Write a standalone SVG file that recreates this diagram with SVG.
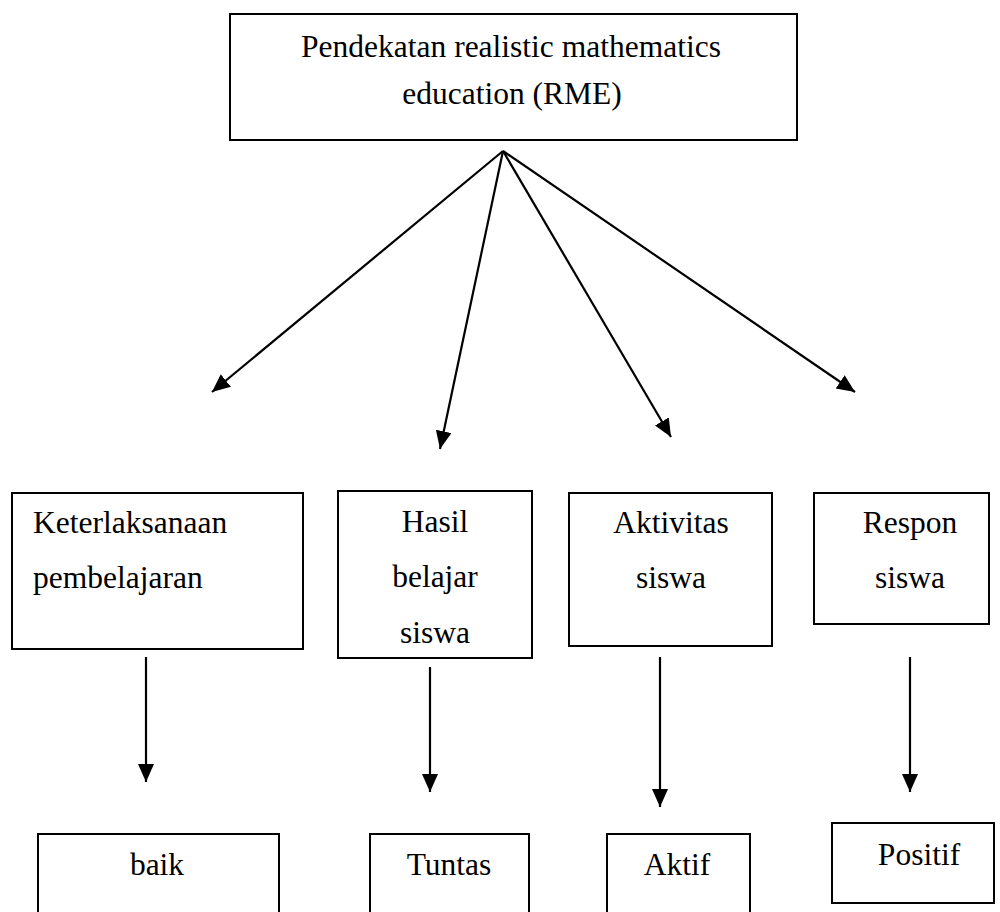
<svg xmlns="http://www.w3.org/2000/svg" width="1000" height="912" viewBox="0 0 1000 912">
<style>
.box{fill:#fff;stroke:#000;stroke-width:2}
text{font-family:'Liberation Serif','Times New Roman',serif;font-size:31.5px;fill:#000}
.c{text-anchor:middle}
.ln{stroke:#000;stroke-width:2.2;fill:none}
</style>
<defs>
<marker id="ah" markerUnits="userSpaceOnUse" markerWidth="20" markerHeight="18" refX="18" refY="8" orient="auto">
<path d="M0,0 L18,8 L0,16 Z" fill="#000"/>
</marker>
</defs>
<rect width="1000" height="912" fill="#fff"/>
<g id="connectors">
<line class="ln" x1="503" y1="151" x2="212" y2="392" marker-end="url(#ah)"/>
<line class="ln" x1="503" y1="151" x2="440" y2="449" marker-end="url(#ah)"/>
<line class="ln" x1="503" y1="151" x2="671" y2="437" marker-end="url(#ah)"/>
<line class="ln" x1="503" y1="151" x2="855" y2="392" marker-end="url(#ah)"/>
<line class="ln" x1="146" y1="657" x2="146" y2="782" marker-end="url(#ah)"/>
<line class="ln" x1="430" y1="667" x2="430" y2="792" marker-end="url(#ah)"/>
<line class="ln" x1="660" y1="657" x2="660" y2="807" marker-end="url(#ah)"/>
<line class="ln" x1="910" y1="657" x2="910" y2="792" marker-end="url(#ah)"/>
</g>
<g id="rme">
<rect class="box" x="230" y="14" width="567" height="126"/>
<text class="c" x="511" y="57">Pendekatan realistic mathematics</text>
<text class="c" x="512" y="104">education (RME)</text>
</g>
<g id="keterlaksanaan">
<rect class="box" x="12" y="493" width="291" height="156"/>
<text x="33" y="533">Keterlaksanaan</text>
<text x="33" y="588">pembelajaran</text>
</g>
<g id="hasil">
<rect class="box" x="338" y="491" width="194" height="167"/>
<text class="c" x="435" y="532">Hasil</text>
<text class="c" x="435" y="587">belajar</text>
<text class="c" x="435" y="643">siswa</text>
</g>
<g id="aktivitas">
<rect class="box" x="569" y="493" width="203" height="153"/>
<text class="c" x="671" y="533">Aktivitas</text>
<text class="c" x="671" y="588">siswa</text>
</g>
<g id="respon">
<rect class="box" x="814" y="493" width="175" height="131"/>
<text class="c" x="910" y="533">Respon</text>
<text class="c" x="910" y="588">siswa</text>
</g>
<g id="baik">
<rect class="box" x="38" y="834" width="241" height="100"/>
<text class="c" x="157" y="875">baik</text>
</g>
<g id="tuntas">
<rect class="box" x="370" y="834" width="159" height="100"/>
<text class="c" x="449" y="875">Tuntas</text>
</g>
<g id="aktif">
<rect class="box" x="607" y="834" width="143" height="100"/>
<text class="c" x="677" y="875">Aktif</text>
</g>
<g id="positif">
<rect class="box" x="832" y="823" width="162" height="80"/>
<text class="c" x="919" y="865">Positif</text>
</g>
</svg>
